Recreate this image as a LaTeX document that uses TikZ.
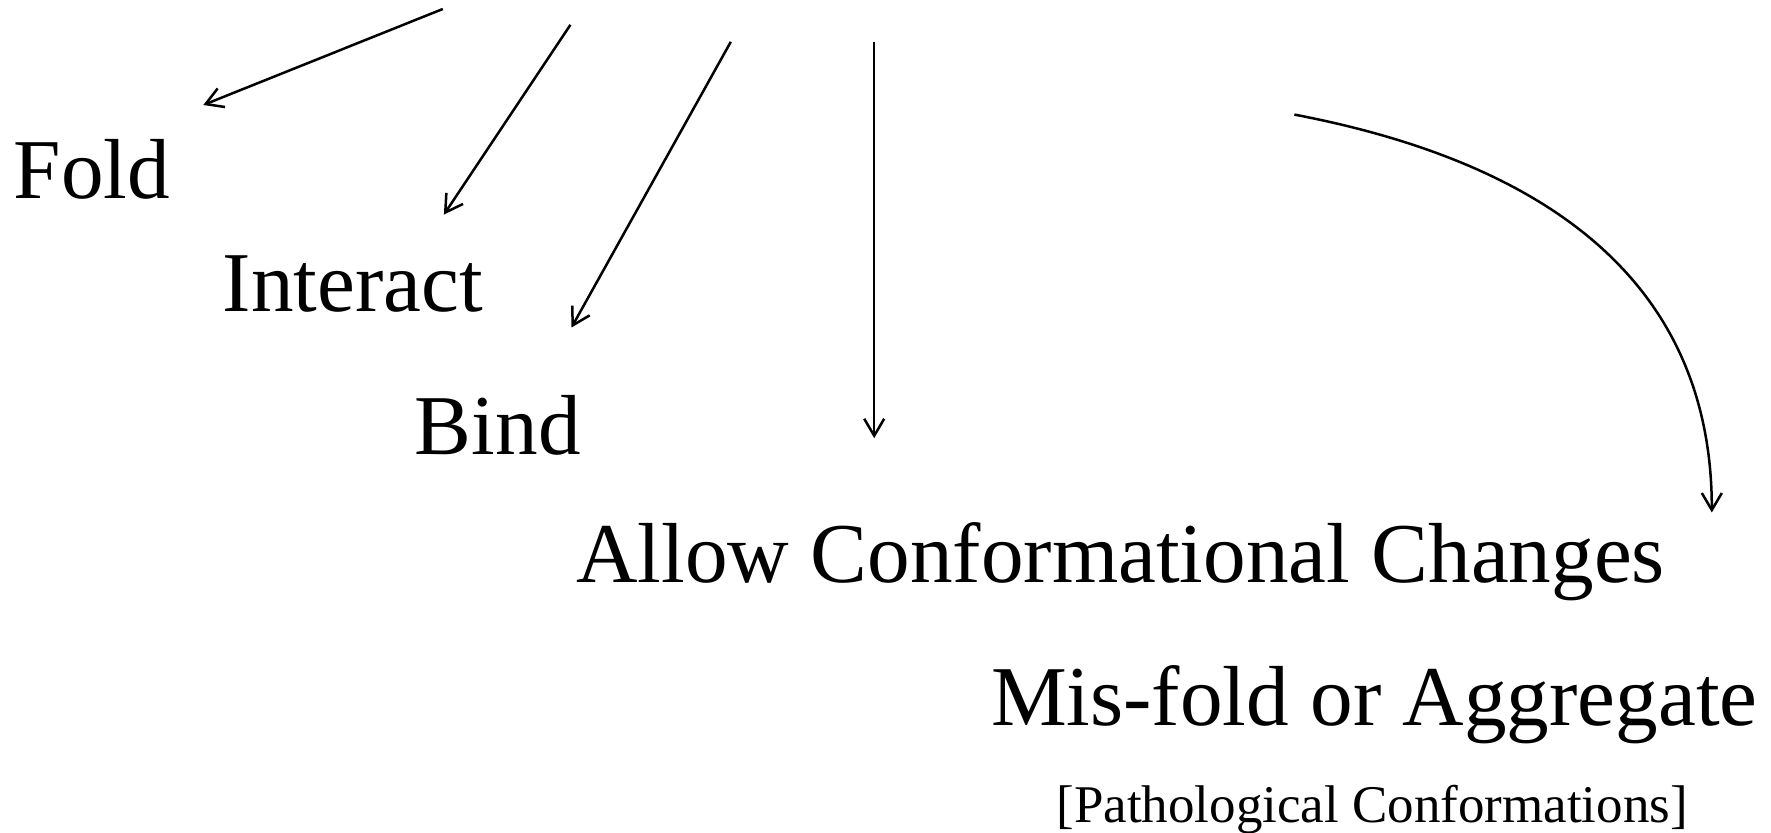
\documentclass[tikz,border=0pt]{standalone}
\usepackage{fontspec}
\setmainfont{Liberation Serif}
\usetikzlibrary{arrows.meta}
\begin{document}
\begin{tikzpicture}[x=0.5pt, y=-0.5pt,
  step label/.style={anchor=base west, inner sep=0pt, font=\fontsize{42.6}{50}\selectfont},
  note label/.style={anchor=base west, inner sep=0pt, font=\fontsize{26.5}{32}\selectfont},
  flow/.style={line width=1.25pt, -{Straight Barb[length=8.5pt,width=10pt,line width=1.25pt]}}]
  \useasboundingbox (0,0) rectangle (1771,833);

  % labels, one per step
  \node[step label] (fold)     at (13.5,198.8)  {Fold};
  \node[step label] (interact) at (222.5,311.7) {Interact};
  \node[step label] (bind)     at (414.5,455)   {Bind};
  \node[step label] (allow)    at (576,582.8)   {Allow Conformational Changes};
  \node[step label] (misfold)  at (990.6,725)   {Mis-fold or Aggregate};
  \node[note label] (patho)    at (1056,822)    {[Pathological Conformations]};

  % arrow end points
  \coordinate (s1) at (442.8,9);     \coordinate (e1) at (203.3,105);
  \coordinate (s2) at (570.4,24.8);  \coordinate (e2) at (443.9,214.6);
  \coordinate (s3) at (730.8,41.8);  \coordinate (e3) at (571.5,327.5);
  \coordinate (s4) at (874.2,41.8);  \coordinate (e4) at (874.2,438.2);
  \coordinate (s5) at (1294.4,114.6); \coordinate (e5) at (1711.8,512.5);

  \draw[flow] (s1) -- (e1);
  \draw[flow] (s2) -- (e2);
  \draw[flow] (s3) -- (e3);
  \draw[flow] (s4) -- (e4);
  \draw[flow] (s5) .. controls (1532,160) and (1712,272) .. (e5);
\end{tikzpicture}
\end{document}
